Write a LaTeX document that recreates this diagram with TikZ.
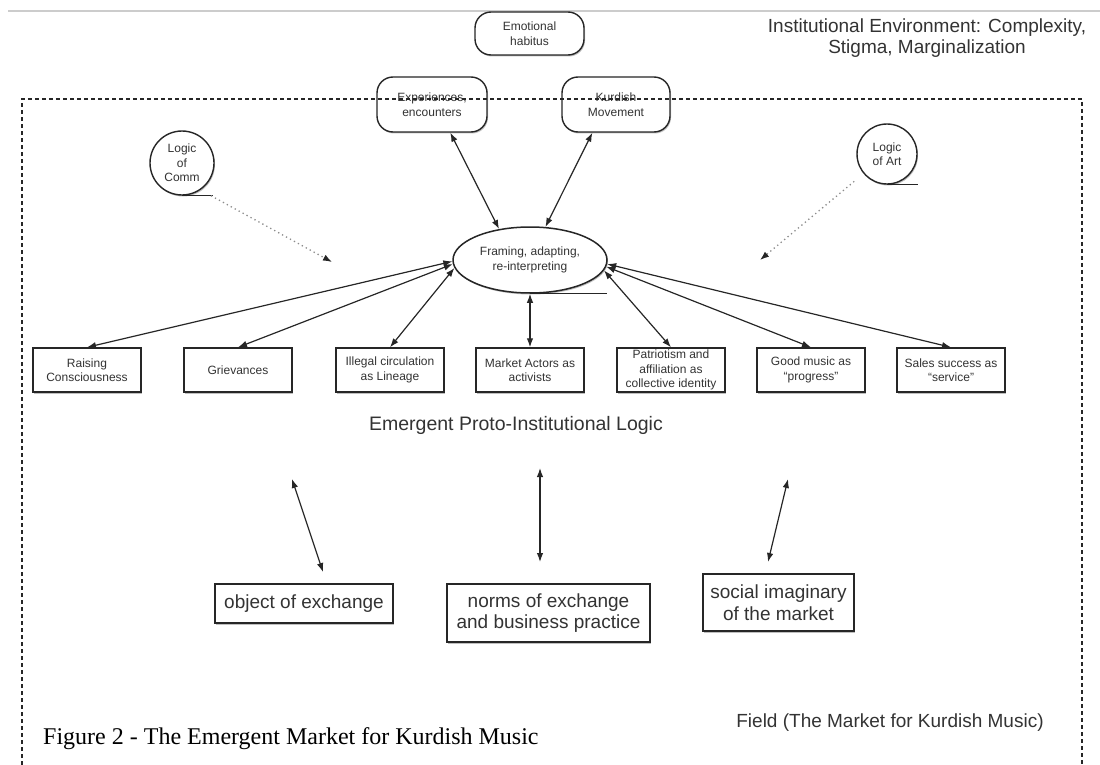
\documentclass[tikz,border=0pt]{standalone}
\usepackage{fontspec}
\setmainfont{Liberation Sans}
\newfontfamily\capfont{Liberation Serif}
\usetikzlibrary{arrows.meta,shapes.geometric,shadows}
\definecolor{ink}{HTML}{262626}
\definecolor{txt}{HTML}{333333}
\begin{document}
\begin{tikzpicture}[x=1pt,y=-1pt,
  sm/.style={font=\fontsize{12}{14.5}\selectfont, text=txt, align=center},
  big/.style={font=\fontsize{19}{21.5}\selectfont, text=txt, align=center},
  shd/.style={drop shadow={shadow xshift=1pt,shadow yshift=-1.5pt,fill=black,opacity=0.25}},
  box/.style={draw=ink, line width=1.4pt, fill=white, minimum width=108pt, minimum height=44pt, inner sep=1pt, sm, shd},
  rbox/.style={draw=ink, line width=1.4pt, fill=white, rounded corners=16pt, inner sep=0pt, sm, shd},
  circ/.style={circle, draw=ink, line width=1.4pt, fill=white, inner sep=0pt, sm, shd},
  bbox/.style={draw=ink, line width=1.4pt, fill=white, inner sep=0pt, big, shd},
  dbl/.style={{Latex[length=9pt,width=6.5pt]}-{Latex[length=9pt,width=6.5pt]}, line width=1.2pt, draw=ink},
  dotarrow/.style={-{Latex[length=9pt,width=6.5pt,color=ink]}, dash pattern=on 1.3pt off 3.2pt, line width=1.3pt, draw=black!45},
  dashfr/.style={draw=ink, line width=1.5pt, dash pattern=on 4pt off 3pt},
  uline/.style={draw=ink, line width=1.3pt}
]
\useasboundingbox (0,0) rectangle (1100,765);

% light top rule
\draw[black!20, line width=1.5pt] (8,11) -- (1100,11);

% top texts
\node[big] (inst) at (927,38) {Institutional Environment: Complexity,\\Stigma, Marginalization};

% rounded boxes
\node[rbox, minimum width=109pt, minimum height=43pt] (emo) at (529.5,33.5) {Emotional\\habitus};
\node[rbox, minimum width=110pt, minimum height=55pt] (exp) at (432,104.5) {Experiences,\\encounters};
\node[rbox, minimum width=108pt, minimum height=55pt] (kurd) at (616,104.5) {Kurdish\\Movement};

% logic circles
\node[circ, minimum size=64pt] (comm) at (182,163) {Logic\\of\\Comm};
\node[circ, minimum size=60pt] (art) at (887,154) {Logic\\of Art};
\draw[uline] (comm.south) -- ++(31,0);
\draw[uline] (art.south) -- ++(31,0);

% central ellipse
\node[ellipse, draw=ink, line width=1.5pt, fill=white, minimum width=154pt, minimum height=66pt, inner sep=0pt, sm, shd] (frame) at (530,260) {Framing, adapting,\\re-interpreting};
\draw[uline] (frame.south) -- ++(77,0);

% boxes row
\node[box] (b1) at (87,370) {Raising\\Consciousness};
\node[box] (b2) at (238,370) {Grievances};
\node[box] (b3) at (390,370) {Illegal circulation\\as Lineage};
\node[box] (b4) at (530,370) {Market Actors as\\activists};
\node[box] (b5) at (671,370) {Patriotism and\\affiliation as\\collective identity};
\node[box] (b6) at (811,370) {Good music as\\``progress''};
\node[box] (b7) at (951,370) {Sales success as\\``service''};

\node[font=\fontsize{19.5}{22}\selectfont, text=txt] (emerg) at (516,425) {Emergent Proto-Institutional Logic};

% bottom boxes
\node[bbox, minimum width=178pt, minimum height=39pt] (obj) at (304,603.5) {object of exchange};
\node[bbox, minimum width=203pt, minimum height=58pt] (norms) at (548.5,613) {norms of exchange\\and business practice};
\node[bbox, minimum width=151pt, minimum height=57pt] (soc) at (778.5,602.5) {social imaginary\\of the market};

\node[big] (field) at (890,723) {Field (The Market for Kurdish Music)};
\node[anchor=west, font=\capfont\fontsize{24}{28}\selectfont, text=black, inner sep=0pt] (cap) at (43,739) {Figure 2 - The Emergent Market for Kurdish Music};

% dashed field frame
\draw[dashfr] (22,765) -- (22,99) -- (1082,99) -- (1082,765);

% connectors
\draw[dbl] (exp.-57) -- (frame.135);
\draw[dbl] (kurd.-130) -- (frame.65);
\draw[dbl] (frame.181) -- (b1.north);
\draw[dbl] (frame.183) -- (b2.north);
\draw[dbl] (frame.186) -- (b3.north);
\draw[dbl] (frame.south) -- (b4.north);
\draw[dbl] (frame.352) -- (b5.north);
\draw[dbl] (frame.355) -- (b6.north);
\draw[dbl] (frame.357) -- (b7.north);

% dotted influences
\coordinate (ct) at (332,262);
\coordinate (at) at (760,260);
\draw[dotarrow] ([xshift=29pt]comm.south) -- (ct);
\draw[dotarrow, shorten <=12pt] (art) -- (at);

% free vertical arrows
\coordinate (la) at (292,479); \coordinate (lb) at (323,572);
\coordinate (ma) at (540,468); \coordinate (mb) at (540,562);
\coordinate (ra) at (788,479); \coordinate (rb) at (768,562);
\draw[dbl] (la) -- (lb);
\draw[dbl] (ma) -- (mb);
\draw[dbl] (ra) -- (rb);
\end{tikzpicture}
\end{document}
